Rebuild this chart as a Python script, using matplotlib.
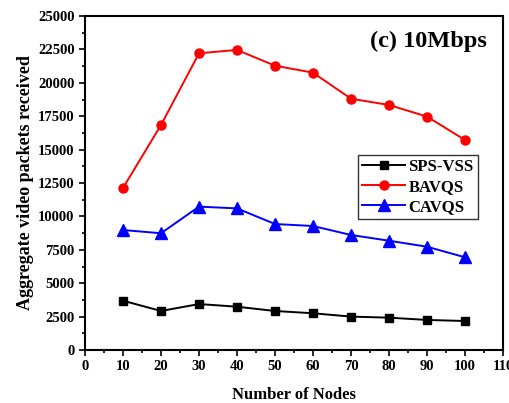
import matplotlib.pyplot as plt
from matplotlib.ticker import MultipleLocator

plt.rcParams['font.family'] = ['Liberation Serif', 'DejaVu Serif']
plt.rcParams['font.weight'] = 'bold'

nodes = [10, 20, 30, 40, 50, 60, 70, 80, 90, 100]
sps_vss = [3690, 2920, 3440, 3240, 2920, 2750, 2500, 2420, 2250, 2170]
bavqs = [12130, 16840, 22210, 22460, 21280, 20760, 18810, 18340, 17470, 15720]
cavqs = [8980, 8740, 10730, 10600, 9430, 9280, 8610, 8180, 7730, 6940]

fig = plt.figure(figsize=(5.09, 4.03), dpi=100)
ax = fig.add_axes([85 / 509, 1 - 350 / 403, 418 / 509, 334 / 403])

ax.plot(nodes, sps_vss, color='black', marker='s', markersize=6, linewidth=1.4, label='SPS-VSS')
ax.plot(nodes, bavqs, color='red', marker='o', markersize=6.5, linewidth=1.4, label='BAVQS')
ax.plot(nodes, cavqs, color='blue', marker='^', markersize=8, linewidth=1.4, label='CAVQS')

ax.set_xlim(0, 110)
ax.set_ylim(0, 25000)
ax.xaxis.set_major_locator(MultipleLocator(10))
ax.xaxis.set_minor_locator(MultipleLocator(5))
ax.yaxis.set_major_locator(MultipleLocator(2500))
ax.yaxis.set_minor_locator(MultipleLocator(1250))
ax.tick_params(which='both', direction='out', top=False, right=False, labelsize=10.5, width=1.2)
ax.tick_params(which='major', length=4)
ax.tick_params(which='minor', length=2.5)
for s in ax.spines.values():
    s.set_linewidth(1.5)

ax.set_xlabel('Number of Nodes', fontsize=12, fontweight='bold', labelpad=10)
ax.set_ylabel('Aggregate video packets received', fontsize=13, fontweight='bold', labelpad=3)

ax.text(0.962, 0.925, '(c) 10Mbps', transform=ax.transAxes, ha='right', va='center',
        fontsize=17.5, fontweight='bold')

leg = ax.legend(loc='upper right', bbox_to_anchor=(0.94, 0.585), fontsize=12, frameon=True,
                fancybox=False, edgecolor='black', handlelength=2.6, borderpad=0.25,
                labelspacing=0.25, handletextpad=0.2, borderaxespad=0)
leg.get_frame().set_linewidth(1.0)

fig.savefig('out.png', dpi=100)
